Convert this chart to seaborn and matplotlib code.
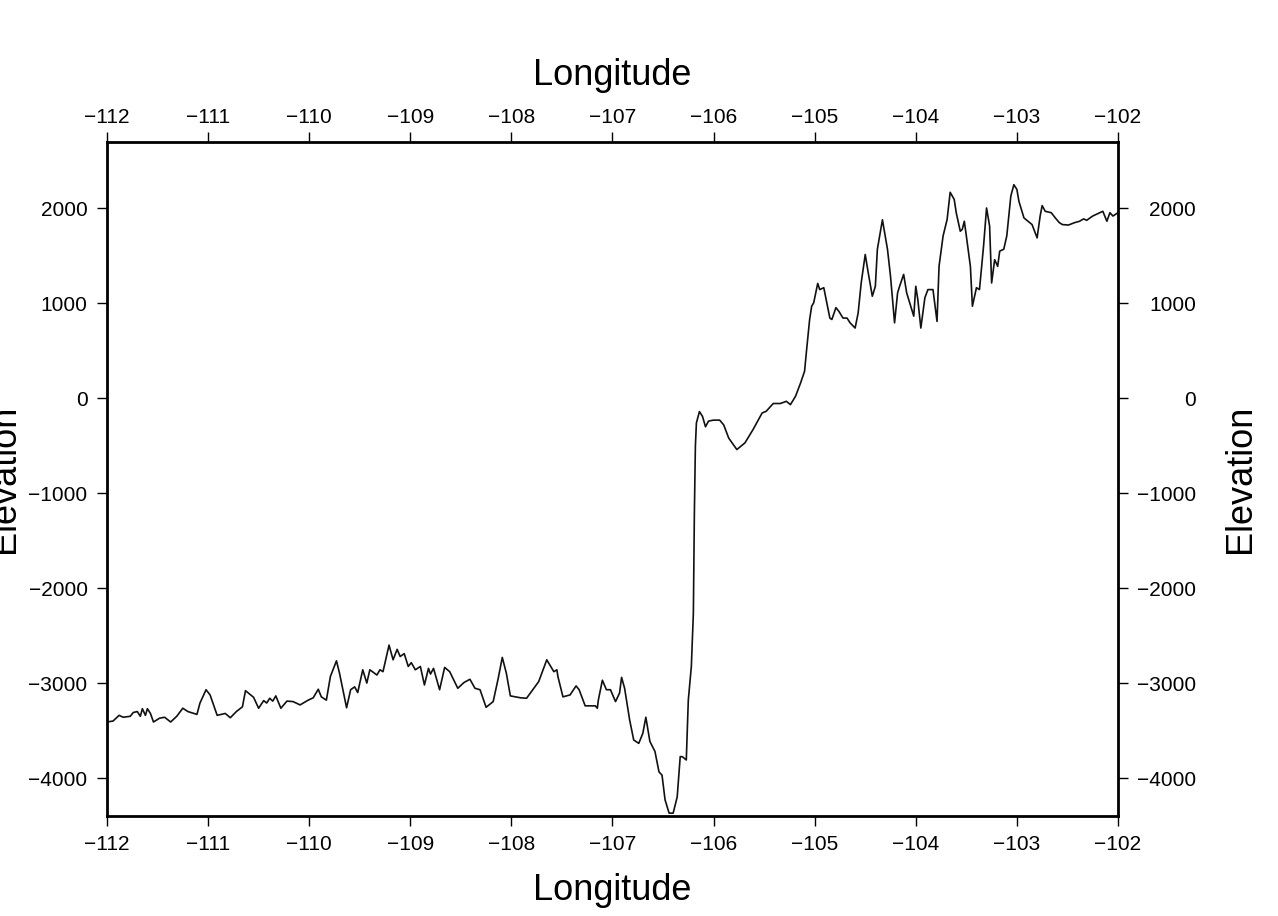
import numpy as np
import pandas as pd
import matplotlib
matplotlib.use("Agg")
import matplotlib.pyplot as plt
import seaborn as sns

# profile (longitude in degrees, elevation in metres)
lon = [
    -112.00, -111.94, -111.88, -111.84, -111.77, -111.74, -111.70, -111.67, -111.65, -111.62,
    -111.60, -111.57, -111.54, -111.48, -111.43, -111.37, -111.31, -111.25, -111.20, -111.11,
    -111.08, -111.02, -110.98, -110.91, -110.83, -110.78, -110.72, -110.66, -110.63, -110.55,
    -110.50, -110.45, -110.42, -110.39, -110.36, -110.33, -110.28, -110.22, -110.16, -110.09,
    -110.01, -109.96, -109.91, -109.88, -109.83, -109.79, -109.73, -109.70, -109.63, -109.59,
    -109.55, -109.52, -109.47, -109.43, -109.40, -109.33, -109.30, -109.27, -109.21, -109.17,
    -109.13, -109.10, -109.06, -109.02, -108.99, -108.95, -108.90, -108.86, -108.82, -108.80,
    -108.77, -108.71, -108.66, -108.61, -108.53, -108.47, -108.41, -108.36, -108.31, -108.25,
    -108.18, -108.13, -108.09, -108.05, -108.01, -107.91, -107.85, -107.73, -107.65, -107.58,
    -107.55, -107.54, -107.49, -107.42, -107.36, -107.33, -107.27, -107.22, -107.17, -107.15,
    -107.14, -107.10, -107.06, -107.02, -106.97, -106.93, -106.91, -106.88, -106.83, -106.79,
    -106.74, -106.70, -106.67, -106.63, -106.58, -106.54, -106.51, -106.48, -106.44, -106.40,
    -106.36, -106.33, -106.31, -106.27, -106.25, -106.22, -106.20, -106.19, -106.18, -106.17,
    -106.14, -106.11, -106.08, -106.05, -106.00, -105.94, -105.90, -105.85, -105.77, -105.69,
    -105.61, -105.52, -105.48, -105.41, -105.34, -105.28, -105.24, -105.19, -105.14, -105.10,
    -105.08, -105.05, -105.03, -105.01, -104.97, -104.95, -104.91, -104.88, -104.85, -104.83,
    -104.79, -104.76, -104.72, -104.68, -104.65, -104.60, -104.57, -104.54, -104.50, -104.47,
    -104.43, -104.40, -104.38, -104.33, -104.28, -104.25, -104.21, -104.18, -104.16, -104.12,
    -104.09, -104.06, -104.02, -104.00, -103.98, -103.95, -103.91, -103.88, -103.83, -103.79,
    -103.77, -103.73, -103.69, -103.66, -103.62, -103.60, -103.56, -103.54, -103.52, -103.50,
    -103.46, -103.44, -103.40, -103.37, -103.33, -103.30, -103.27, -103.25, -103.22, -103.19,
    -103.17, -103.13, -103.10, -103.06, -103.03, -103.00, -102.98, -102.93, -102.85, -102.80,
    -102.77, -102.75, -102.72, -102.66, -102.62, -102.58, -102.55, -102.49, -102.43, -102.38,
    -102.34, -102.31, -102.25, -102.20, -102.15, -102.11, -102.08, -102.05, -102.00,
]
elevation = [
    -3410, -3400, -3340, -3360, -3350, -3310, -3300, -3350, -3270, -3340,
    -3270, -3320, -3410, -3370, -3360, -3410, -3350, -3265, -3300, -3330,
    -3210, -3070, -3125, -3340, -3320, -3365, -3300, -3250, -3080, -3150,
    -3265, -3185, -3210, -3160, -3190, -3135, -3265, -3190, -3195, -3230,
    -3180, -3155, -3065, -3145, -3180, -2930, -2766, -2896, -3260, -3070,
    -3040, -3100, -2860, -3000, -2860, -2915, -2860, -2880, -2600, -2755,
    -2645, -2720, -2690, -2825, -2785, -2860, -2825, -3020, -2845, -2905,
    -2845, -3070, -2835, -2880, -3055, -2995, -2960, -3055, -3070, -3255,
    -3195, -2950, -2730, -2895, -3135, -3155, -3160, -2985, -2755, -2880,
    -2860, -2930, -3145, -3125, -3030, -3070, -3240, -3240, -3240, -3265,
    -3180, -2970, -3070, -3070, -3195, -3105, -2940, -3055, -3390, -3600,
    -3635, -3530, -3360, -3615, -3720, -3935, -3970, -4230, -4370, -4370,
    -4200, -3775, -3775, -3810, -3180, -2825, -2265, -1210, -505, -260,
    -140, -190, -300, -240, -230, -230, -280, -420, -540, -470,
    -330, -155, -137, -55, -55, -32, -67, 20, 160, 285,
    510, 830, 970, 1005, 1210, 1145, 1165, 1005, 845, 830,
    955, 915, 845, 845, 795, 740, 900, 1215, 1515, 1320,
    1075, 1180, 1570, 1880, 1570, 1285, 795, 1110, 1180, 1305,
    1110, 1005, 865, 1180, 1040, 740, 1060, 1145, 1145, 810,
    1390, 1710, 1885, 2170, 2095, 1955, 1760, 1780, 1865, 1710,
    1390, 970, 1165, 1145, 1600, 2005, 1815, 1215, 1460, 1390,
    1550, 1570, 1710, 2130, 2250, 2200, 2075, 1900, 1830, 1690,
    1920, 2030, 1970, 1955, 1900, 1850, 1830, 1825, 1850, 1865,
    1890, 1875, 1920, 1945, 1970, 1865, 1955, 1920, 1955,
]

lon_ticks = list(range(-112, -101))
elev_ticks = [-4000, -3000, -2000, -1000, 0, 1000, 2000]

df = pd.DataFrame({"Longitude": lon, "Elevation": elevation})

sns.set_theme(style="white")
plt.rcParams["font.family"] = ["Liberation Sans", "DejaVu Sans"]
plt.rcParams["text.color"] = "black"
plt.rcParams["axes.labelcolor"] = "black"

fig = plt.figure(figsize=(12.78, 9.16), dpi=100)
ax = fig.add_axes([0.0837, 0.1092, 0.7911, 0.7358])

sns.lineplot(data=df, x="Longitude", y="Elevation", ax=ax, color="#111111",
             linewidth=1.2, estimator=None, sort=False)

ax.set_xlim(-112, -102)
ax.set_ylim(-4400, 2700)
ax.set_xticks(lon_ticks)
ax.set_yticks(elev_ticks)

for s in ax.spines.values():
    s.set_visible(True)
    s.set_color("black")
    s.set_linewidth(2)

tick_style = dict(direction="out", length=7, width=1, color="black",
                  labelsize=15, labelcolor="black")
ax.tick_params(axis="both", which="major", bottom=True, left=True,
               top=False, right=False, **tick_style)
ax.tick_params(axis="x", pad=7)
ax.tick_params(axis="y", pad=7)

# top and right frames as separate axes (own padding, right-aligned labels)
top = ax.secondary_xaxis("top")
top.set_xticks(lon_ticks)
top.tick_params(axis="x", pad=4, **tick_style)
top.spines["top"].set_visible(False)

sec = ax.secondary_yaxis("right")
sec.set_yticks(elev_ticks)
sec.tick_params(axis="y", pad=49, **tick_style)
sec.spines["right"].set_visible(False)
for t in sec.get_yticklabels():
    t.set_horizontalalignment("right")

# labels on all four sides, like the GMT frame
ax.set_xlabel("Longitude", fontsize=26, va="center")
ax.set_ylabel("Elevation", fontsize=26, va="center")
ax.xaxis.set_label_coords(0.5, -0.111)
ax.yaxis.set_label_coords(-0.101, 0.5)

ax.text(0.5, 1.098, "Longitude", transform=ax.transAxes, fontsize=26,
        ha="center", va="center")
ax.text(1.1207, 0.5, "Elevation", transform=ax.transAxes, fontsize=26,
        ha="center", va="center", rotation=90)

fig.savefig("out.png", dpi=100)
